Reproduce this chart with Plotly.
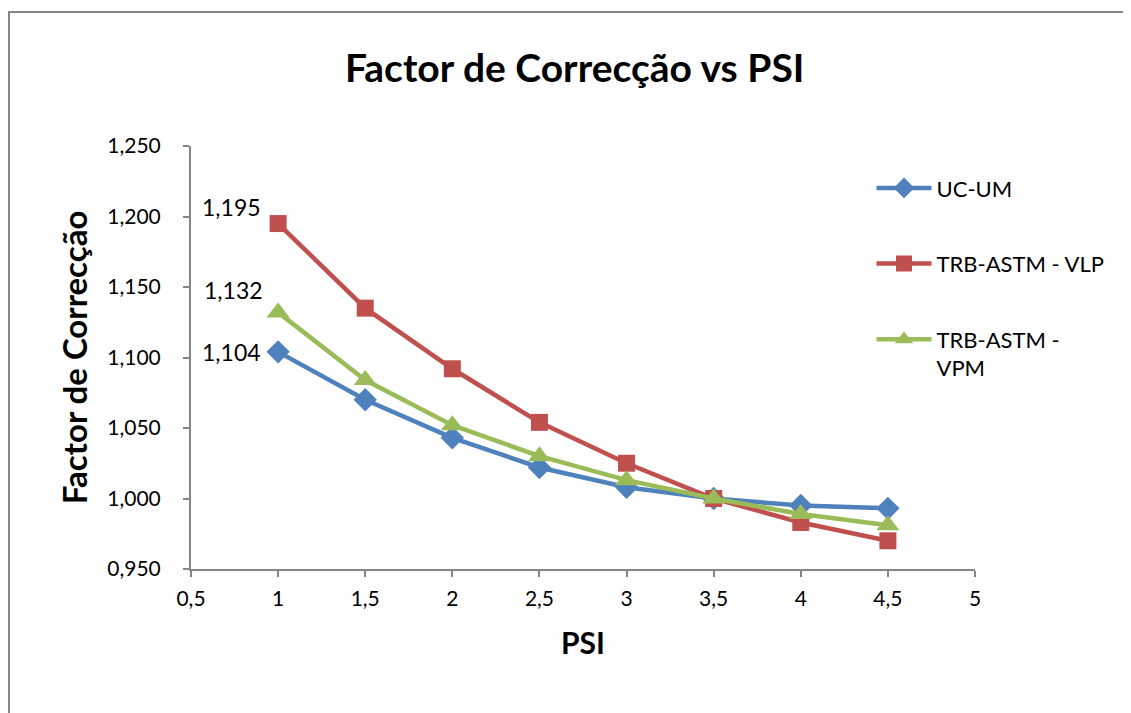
import plotly.graph_objects as go

psi = [1, 1.5, 2, 2.5, 3, 3.5, 4, 4.5]
uc_um = [1.104, 1.070, 1.043, 1.022, 1.008, 1.000, 0.995, 0.993]
trb_vlp = [1.195, 1.135, 1.092, 1.054, 1.025, 1.000, 0.983, 0.970]
trb_vpm = [1.132, 1.084, 1.052, 1.030, 1.013, 1.000, 0.989, 0.981]

series_names = ["UC-UM", "TRB-ASTM - VLP", "TRB-ASTM -<br>VPM"]
colors = ["#4F81BD", "#C0504D", "#9BBB59"]
symbols = ["diamond", "square", "triangle-up"]
msizes = [18, 17, 20]
label_shift = [(-15, 0), (-15, 17), (-13, 22)]

FONT = "Lato"

fig = go.Figure()
for i, (name, vals) in enumerate(zip(series_names, [uc_um, trb_vlp, trb_vpm])):
    fig.add_trace(go.Scatter(
        x=psi, y=vals, name=name, mode="lines+markers",
        line=dict(color=colors[i], width=4.5),
        marker=dict(symbol=symbols[i], size=msizes[i], color=colors[i]),
        legendgroup=name,
        cliponaxis=False,
    ))
    fig.add_annotation(x=psi[0], y=vals[0], text=f"{vals[0]:.3f}".replace(".", ","),
                       showarrow=False, xanchor="right", yanchor="middle",
                       xshift=label_shift[i][0], yshift=label_shift[i][1],
                       font=dict(family=FONT, size=23, color="black"))

axis_color = "#868686"
fig.update_layout(
    width=1131, height=713,
    paper_bgcolor="white", plot_bgcolor="white",
    separators=",.",
    margin=dict(l=183, r=164, t=138, b=152),
    title=dict(text="<b>Factor de Correcção vs PSI</b>", x=0.501, xanchor="center",
               y=0.916, yanchor="middle",
               font=dict(family=FONT, size=39, color="black")),
    font=dict(family=FONT, size=21, color="black"),
    legend=dict(x=0.868, y=0.950, xanchor="left", yanchor="top",
                font=dict(family=FONT, size=22, color="black"),
                tracegroupgap=44, bgcolor="rgba(0,0,0,0)",
                itemwidth=55, valign="top"),
    showlegend=True,
)
fig.update_xaxes(range=[0.5, 5], dtick=0.5, tick0=0.5, showgrid=False, zeroline=False,
                 showline=True, linecolor=axis_color, linewidth=2,
                 ticks="outside", ticklen=6, tickcolor=axis_color, tickwidth=2,
                 ticklabelstandoff=4,
                 tickfont=dict(family=FONT, size=21, color="black"),
                 title=dict(text="<b>PSI</b>", font=dict(family=FONT, size=30, color="black"), standoff=24))
fig.update_yaxes(range=[0.95, 1.25], dtick=0.05, tick0=0.95, tickformat=".3f",
                 showgrid=False, zeroline=False,
                 showline=True, linecolor=axis_color, linewidth=2,
                 ticks="outside", ticklen=6, tickcolor=axis_color, tickwidth=2,
                 ticklabelstandoff=18,
                 tickfont=dict(family=FONT, size=21, color="black"),
                 title=dict(text="<b>Factor de Correcção</b>", font=dict(family=FONT, size=33, color="black"), standoff=10))

# outer chart frame
fig.add_shape(type="rect", xref="paper", yref="paper",
              x0=(9 - 191) / 784, x1=(1145 - 191) / 784,
              y0=(569 - 730) / 423, y1=(569 - 12) / 423,
              line=dict(color=axis_color, width=2), fillcolor="rgba(0,0,0,0)", layer="below")

fig.write_html("out.html")
